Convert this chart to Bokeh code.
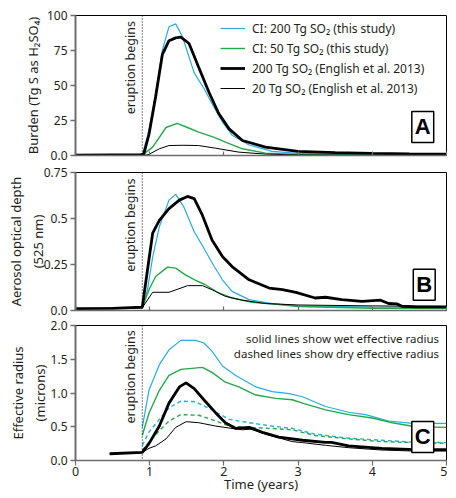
import math
from bokeh.plotting import figure
from bokeh.layouts import column
from bokeh.models import Range1d, FixedTicker, Label, Span
from bokeh.embed import file_html
from bokeh.resources import INLINE

FONT = "Noto Sans"
BLUE = "#29abe2"
GREEN = "#23a84a"
GRAY_AXIS = "#6d6d6d"
TXT = "#231f20"

ERUPTION_T = 0.9

# ---------------- Panel A: burden (Tg S as H2SO4) ----------------
a_blue_t = [0, 0.9, 0.99, 1.08, 1.17, 1.26, 1.35, 1.44, 1.6, 1.73, 1.84, 1.98, 2.11, 2.34, 2.65, 3.0, 3.5, 4.0, 4.5, 5.0]
a_blue_v = [0.2, 0.3, 18, 44, 75, 92, 94, 85, 59, 48, 37, 24, 14.5, 7.5, 3.0, 1.5, 1.0, 0.7, 0.5, 0.4]
a_green_t = [0, 0.9, 1.04, 1.22, 1.37, 1.51, 1.66, 1.87, 2.02, 2.25, 2.56, 3.0, 4.0, 5.0]
a_green_v = [0.2, 0.3, 6, 20, 23, 20, 16.7, 13, 9.5, 4.8, 1.7, 0.7, 0.3, 0.2]
a_e200_t = [0, 0.5, 0.88, 0.92, 0.99, 1.08, 1.17, 1.26, 1.35, 1.42, 1.53, 1.66, 1.80, 1.93, 2.07, 2.25, 2.56, 3.0, 3.5, 4.0, 4.5, 5.0]
a_e200_v = [0.2, 0.5, 0.6, 1, 15, 42, 72, 82, 84, 84.5, 80, 63, 45, 30, 19, 10.7, 6, 3, 2, 1.5, 1.2, 1.0]
a_e20_t = [0, 0.95, 0.99, 1.13, 1.26, 1.45, 1.66, 1.89, 2.2, 2.56, 3.0, 4.0, 5.0]
a_e20_v = [0.2, 0.3, 0.8, 4.8, 7.1, 7.3, 7.1, 5.2, 2.4, 1.0, 0.4, 0.2, 0.1]

# ---------------- Panel B: aerosol optical depth ----------------
b_blue_t = [0, 0.9, 0.97, 1.04, 1.13, 1.26, 1.35, 1.46, 1.60, 1.73, 1.87, 1.98, 2.11, 2.34, 2.65, 3.0, 4.0, 5.0]
b_blue_v = [0.01, 0.015, 0.113, 0.29, 0.455, 0.6, 0.631, 0.563, 0.428, 0.338, 0.239, 0.167, 0.104, 0.059, 0.038, 0.025, 0.018, 0.015]
b_green_t = [0, 0.9, 0.99, 1.08, 1.24, 1.35, 1.48, 1.62, 1.75, 1.93, 2.11, 2.38, 2.74, 3.0, 4.0, 5.0]
b_green_v = [0.01, 0.015, 0.113, 0.185, 0.236, 0.23, 0.194, 0.164, 0.14, 0.095, 0.068, 0.045, 0.032, 0.022, 0.012, 0.01]
b_e200_t = [0, 0.5, 0.9, 0.97, 1.04, 1.13, 1.26, 1.40, 1.51, 1.60, 1.71, 1.84, 1.98, 2.11, 2.34, 2.61, 2.79, 2.97, 3.23, 3.37, 3.59, 3.86, 4.11, 4.22, 4.33, 4.40, 4.6, 5.0]
b_e200_v = [0.01, 0.012, 0.018, 0.22, 0.42, 0.49, 0.554, 0.60, 0.62, 0.608, 0.518, 0.383, 0.293, 0.239, 0.167, 0.122, 0.113, 0.099, 0.068, 0.072, 0.059, 0.05, 0.056, 0.038, 0.036, 0.023, 0.02, 0.02]
b_e20_t = [0, 0.9, 1.04, 1.26, 1.51, 1.71, 1.84, 2.02, 2.25, 2.56, 3.0, 4.0, 5.0]
b_e20_v = [0.01, 0.015, 0.099, 0.099, 0.135, 0.135, 0.113, 0.077, 0.056, 0.038, 0.03, 0.025, 0.022]

# ---------------- Panel C: effective radius (microns) ----------------
c_blue_wet_t = [0.9, 0.99, 1.13, 1.26, 1.42, 1.62, 1.73, 1.84, 1.98, 2.16, 2.43, 2.65, 2.88, 3.06, 3.37, 3.68, 3.91, 4.22, 4.58, 5.0]
c_blue_wet_v = [0.49, 1.04, 1.42, 1.64, 1.78, 1.78, 1.74, 1.62, 1.40, 1.26, 1.09, 1.02, 0.99, 0.945, 0.80, 0.715, 0.68, 0.585, 0.547, 0.55]
c_green_wet_t = [0.9, 0.99, 1.13, 1.26, 1.42, 1.71, 1.84, 2.02, 2.20, 2.43, 2.70, 2.92, 3.06, 3.37, 3.68, 4.0, 4.27, 4.58, 5.0]
c_green_wet_v = [0.37, 0.70, 1.04, 1.26, 1.35, 1.38, 1.305, 1.16, 1.09, 0.97, 0.92, 0.90, 0.85, 0.75, 0.68, 0.63, 0.56, 0.50, 0.49]
c_blue_dry_t = [0.9, 0.99, 1.13, 1.26, 1.42, 1.62, 1.84, 2.07, 2.34, 2.65, 2.92, 3.23, 3.68, 4.13, 4.58, 5.0]
c_blue_dry_v = [0.225, 0.42, 0.61, 0.78, 0.88, 0.87, 0.75, 0.61, 0.56, 0.51, 0.475, 0.39, 0.33, 0.30, 0.27, 0.265]
c_green_dry_t = [0.9, 0.99, 1.13, 1.26, 1.42, 1.66, 1.89, 2.07, 2.34, 2.65, 2.92, 3.23, 3.68, 4.13, 4.58, 5.0]
c_green_dry_v = [0.15, 0.27, 0.44, 0.585, 0.68, 0.67, 0.585, 0.51, 0.49, 0.475, 0.455, 0.37, 0.32, 0.28, 0.265, 0.255]
c_e200_t = [0.46, 0.9, 0.99, 1.13, 1.26, 1.40, 1.49, 1.60, 1.73, 1.89, 2.02, 2.16, 2.34, 2.52, 2.74, 3.06, 3.37, 3.45, 3.68, 4.13, 4.58, 5.0]
c_e200_v = [0.10, 0.12, 0.25, 0.51, 0.85, 1.09, 1.15, 1.065, 0.90, 0.705, 0.56, 0.475, 0.49, 0.417, 0.345, 0.30, 0.27, 0.27, 0.216, 0.18, 0.16, 0.16]
c_e20_t = [0.46, 0.9, 0.99, 1.08, 1.22, 1.35, 1.49, 1.66, 1.89, 2.11, 2.25, 2.38, 2.56, 2.79, 2.92, 3.06, 3.37, 3.68, 4.13, 4.58, 5.0]
c_e20_v = [0.10, 0.12, 0.18, 0.216, 0.32, 0.49, 0.575, 0.56, 0.51, 0.475, 0.455, 0.465, 0.39, 0.32, 0.28, 0.265, 0.225, 0.19, 0.155, 0.14, 0.14]

x_ticks = [0, 1, 2, 3, 4, 5]
a_ticks = [0, 25, 50, 75, 100]
a_tick_labels = ["0.0", "25", "50", "75", "100"]
b_ticks = [0, 0.25, 0.5, 0.75]
b_tick_labels = ["0.0", "0.25", "0.5", "0.75"]
c_ticks = [0, 0.5, 1.0, 1.5, 2.0]
c_tick_labels = ["0.0", "0.5", "1.0", "1.5", "2.0"]

legend_labels = ["CI: 200 Tg SO\u2082 (this study)", "CI: 50 Tg SO\u2082 (this study)",
                 "200 Tg SO\u2082 (English et al. 2013)", "20 Tg SO\u2082 (English et al. 2013)"]

W = 447


def make_fig(height, ymax, ticks, tick_labels, ylabel, label_standoff, top, bottom, bottom_labels):
    p = figure(width=W, height=height, output_backend="svg", toolbar_location=None,
               x_range=Range1d(0, 5), y_range=Range1d(0, ymax))
    p.min_border_left = 75
    p.min_border_right = 1
    p.min_border_top = top
    p.min_border_bottom = bottom
    p.outline_line_color = "black"
    p.outline_line_width = 1
    p.grid.visible = False
    p.background_fill_color = "white"
    p.border_fill_color = "white"

    ya = p.yaxis[0]
    ya.ticker = FixedTicker(ticks=ticks)
    ya.major_label_overrides = {t: l for t, l in zip(ticks, tick_labels)}
    ya.axis_line_color = GRAY_AXIS
    ya.axis_line_width = 2
    ya.major_tick_line_color = GRAY_AXIS
    ya.major_tick_line_width = 1.5
    ya.major_tick_out = 5
    ya.major_tick_in = 0
    ya.minor_tick_line_color = None
    ya.major_label_text_font = FONT
    ya.major_label_text_font_size = "12px"
    ya.major_label_text_color = TXT
    ya.major_label_standoff = 3
    ya.axis_label = ylabel
    ya.axis_label_text_font = FONT
    ya.axis_label_text_font_size = "13px"
    ya.axis_label_text_font_style = "normal"
    ya.axis_label_text_color = TXT
    ya.axis_label_standoff = label_standoff

    xa = p.xaxis[0]
    xa.axis_line_color = GRAY_AXIS
    xa.axis_line_width = 1.5
    if bottom_labels:
        xa.ticker = FixedTicker(ticks=x_ticks)
        xa.major_tick_line_color = GRAY_AXIS
        xa.major_tick_line_width = 1.2
        xa.minor_tick_line_color = None
        xa.major_tick_out = 5
        xa.major_tick_in = 0
        xa.major_label_text_font = FONT
        xa.major_label_text_font_size = "12.5px"
        xa.major_label_text_color = TXT
        xa.major_label_standoff = 1
        xa.axis_label = "Time (years)"
        xa.axis_label_text_font = FONT
        xa.axis_label_text_font_size = "13px"
        xa.axis_label_text_font_style = "normal"
        xa.axis_label_text_color = TXT
        xa.axis_label_standoff = -4
    else:
        # tick marks only (drawn inward), no tick labels
        xa.ticker = FixedTicker(ticks=[], minor_ticks=x_ticks)
        xa.major_tick_line_color = None
        xa.minor_tick_line_color = GRAY_AXIS
        xa.minor_tick_line_width = 1.2
        xa.minor_tick_in = 4
        xa.minor_tick_out = 0
        xa.major_label_standoff = 0

    p.add_layout(Span(location=ERUPTION_T, dimension="height", line_color="black",
                      line_width=1, line_dash="1 2"))
    return p


def add_eruption_label(p, y):
    p.add_layout(Label(x=ERUPTION_T - 0.045, y=y, text="eruption begins", angle=math.pi / 2,
                       text_align="right", text_baseline="bottom", text_font=FONT,
                       text_font_size="12.5px", text_color=TXT))


def add_box_label(p, x, y, letter):
    p.add_layout(Label(x=x, y=y, text=letter, text_align="center", text_baseline="middle",
                       text_font="Liberation Sans", text_font_style="bold", text_font_size="22px",
                       text_color="black", border_line_color="black", border_line_width=1.5,
                       background_fill_color="white", padding=3))


# ---- Panel A
pa = make_fig(163, 100, a_ticks, a_tick_labels, "Burden (Tg S as H\u2082SO\u2084)", 2, 15, 8, False)
pa.line(a_blue_t, a_blue_v, line_color=BLUE, line_width=1.2, legend_label=legend_labels[0])
pa.line(a_green_t, a_green_v, line_color=GREEN, line_width=1.4, legend_label=legend_labels[1])
pa.line(a_e200_t, a_e200_v, line_color="black", line_width=2.8, legend_label=legend_labels[2])
pa.line(a_e20_t, a_e20_v, line_color="black", line_width=1.0, legend_label=legend_labels[3])
add_eruption_label(pa, 96)
add_box_label(pa, 4.68, 20.4, "A")
lg = pa.legend[0]
lg.location = (145, 57)
lg.margin = 0
lg.padding = 0
lg.spacing = 0
lg.glyph_width = 25
lg.glyph_height = 20
lg.label_height = 20
lg.label_standoff = 7
lg.label_text_font = FONT
lg.label_text_font_size = "12px"
lg.label_text_color = TXT
lg.background_fill_alpha = 0
lg.border_line_alpha = 0

# ---- Panel B
pb = make_fig(155, 0.75, b_ticks, b_tick_labels, "Aerosol optical depth\n(525 nm)", -6, 9, 8, False)
pb.line(b_blue_t, b_blue_v, line_color=BLUE, line_width=1.2)
pb.line(b_green_t, b_green_v, line_color=GREEN, line_width=1.4)
pb.line(b_e200_t, b_e200_v, line_color="black", line_width=2.8)
pb.line(b_e20_t, b_e20_v, line_color="black", line_width=1.0)
add_eruption_label(pb, 0.717)
add_box_label(pb, 4.70, 0.14, "B")

# ---- Panel C
pc = make_fig(180, 2.0, c_ticks, c_tick_labels, "Effective radius\n(microns)", -1, 7, 38, True)
pc.line(c_blue_wet_t, c_blue_wet_v, line_color=BLUE, line_width=1.2)
pc.line(c_green_wet_t, c_green_wet_v, line_color=GREEN, line_width=1.4)
pc.line(c_blue_dry_t, c_blue_dry_v, line_color=BLUE, line_width=1.4, line_dash="4 3")
pc.line(c_green_dry_t, c_green_dry_v, line_color=GREEN, line_width=1.4, line_dash="4 3")
pc.line(c_e200_t, c_e200_v, line_color="black", line_width=2.8)
pc.line(c_e20_t, c_e20_v, line_color="black", line_width=1.0)
add_eruption_label(pc, 1.93)
add_box_label(pc, 4.68, 0.35, "C")
pc.add_layout(Label(x=4.90, y=1.81, text="solid lines show wet effective radius", text_align="right",
                    text_baseline="middle", text_font=FONT, text_font_size="11.5px", text_color=TXT))
pc.add_layout(Label(x=4.90, y=1.59, text="dashed lines show dry effective radius", text_align="right",
                    text_baseline="middle", text_font=FONT, text_font_size="11.5px", text_color=TXT))

layout = column(pa, pb, pc, spacing=0)
open("out.html", "w").write(file_html(layout, INLINE))
